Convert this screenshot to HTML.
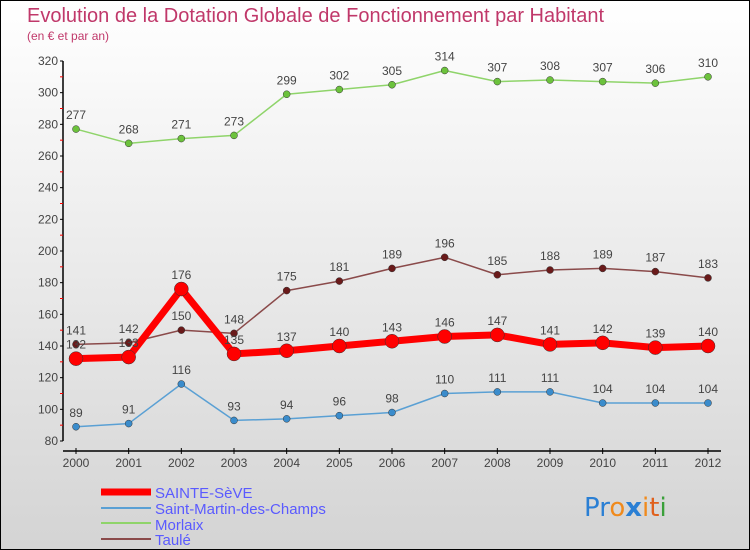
<!DOCTYPE html>
<html><head><meta charset="utf-8"><style>
body{margin:0}
#c{width:748px;height:548px;border:1px solid #000;background:linear-gradient(#fff 0%,#eee 40%,#d4d4d4 100%);position:relative;overflow:hidden;font-family:"Liberation Sans",sans-serif}
</style></head><body>
<div id="c">
<svg id="s" width="748" height="548" style="position:absolute;left:0;top:0">
<text x="26" y="21" font-size="20" fill="#c0386a">Evolution de la Dotation Globale de Fonctionnement par Habitant</text>
<text x="26" y="39" font-size="12" fill="#c0386a">(en € et par an)</text>
<g id="ax"></g><g id="pl"></g>
<g>
<line x1="100" y1="491" x2="150" y2="491" stroke="#f00" stroke-width="7"/>
<text x="154" y="497" font-size="15" fill="#5a5aff">SAINTE-SèVE</text>
<line x1="100" y1="507" x2="150" y2="507" stroke="#5aa0d4" stroke-width="2"/>
<text x="154" y="513" font-size="15" fill="#5a5aff">Saint-Martin-des-Champs</text>
<line x1="100" y1="522" x2="150" y2="522" stroke="#8fd46a" stroke-width="2"/>
<text x="154" y="529" font-size="15" fill="#5a5aff">Morlaix</text>
<line x1="100" y1="538" x2="150" y2="538" stroke="#8a4a4a" stroke-width="2"/>
<text x="154" y="544" font-size="15" fill="#5a5aff">Taulé</text>
</g>
<text x="583" y="515" font-size="26" font-family="'DejaVu Sans',sans-serif"><tspan fill="#2a7fd4">Pr</tspan><tspan fill="#f08a1c">o</tspan><tspan fill="#2a7fd4" font-weight="bold">x</tspan><tspan fill="#f08a1c">i</tspan><tspan fill="#e0601c">t</tspan><tspan fill="#3aa03a">i</tspan></text>
</svg>
</div>
<script>
const years=[2000,2001,2002,2003,2004,2005,2006,2007,2008,2009,2010,2011,2012];
const yTicks=[80,100,120,140,160,180,200,220,240,260,280,300,320];
const sainteSeve=[132,133,176,135,137,140,143,146,147,141,142,139,140];
const saintMartin=[89,91,116,93,94,96,98,110,111,111,104,104,104];
const morlaix=[277,268,271,273,299,302,305,314,307,308,307,306,310];
const taule=[141,142,150,148,175,181,189,196,185,188,189,187,183];
const NS="http://www.w3.org/2000/svg";
const xS=i=>75+i*(707-75)/12;
const yS=v=>440-(v-80)*380/240;
function mk(t,a,p){const e=document.createElementNS(NS,t);for(const k in a)e.setAttribute(k,a[k]);p.appendChild(e);return e;}
const ax=document.getElementById('ax'),pl=document.getElementById('pl');
let e=mk('line',{x1:62,y1:60,x2:62,y2:440,stroke:'#000','stroke-width':1.5},ax);


e=mk('line',{x1:62,y1:450,x2:720,y2:450,stroke:'#000','stroke-width':1.5},ax);


yTicks.forEach((v,i)=>{const y=yS(v);
 mk('line',{x1:59,y1:y,x2:62,y2:y,stroke:'#000'},ax);
 if(i<yTicks.length-1)mk('line',{x1:59,y1:yS(v+10),x2:62,y2:yS(v+10),stroke:'#f00'},ax);
 const t=mk('text',{x:57,y:y+4,'font-size':12,fill:'#444','text-anchor':'end'},ax);t.textContent=v;
 
 
});
years.forEach((yr,i)=>{const x=xS(i);
 mk('line',{x1:x,y1:447,x2:x,y2:453,stroke:'#000'},ax);
 const t=mk('text',{x:x,y:466,'font-size':12,fill:'#444','text-anchor':'middle'},ax);t.textContent=yr;
 
 
});
function series(d,col,mc,w,r,name){
 const g=mk('g',{},pl);
 
 
 mk('polyline',{points:d.map((v,i)=>xS(i)+','+yS(v)).join(' '),fill:'none',stroke:col,'stroke-width':w,'stroke-linejoin':'round'},g);
 d.forEach((v,i)=>{
  const c=mk('circle',{cx:xS(i),cy:yS(v),r:r,fill:mc,stroke:'#333','stroke-width':0.5},g);
  
  
  const t=mk('text',{x:xS(i),y:yS(v)-10,'font-size':12,fill:'#444','text-anchor':'middle'},g);t.textContent=v;
  
  
 });
}
series(morlaix,'#8fd46a','#6cc23c',1.5,3.5,'morlaix');
series(saintMartin,'#5aa0d4','#3a8ccc',1.5,3.5,'saint-martin');
series(taule,'#8a4a4a','#6a1a1a',1.5,3.5,'taule');
series(sainteSeve,'#f00','#f00',7,7,'sainte-seve');
</script>
</body></html>
